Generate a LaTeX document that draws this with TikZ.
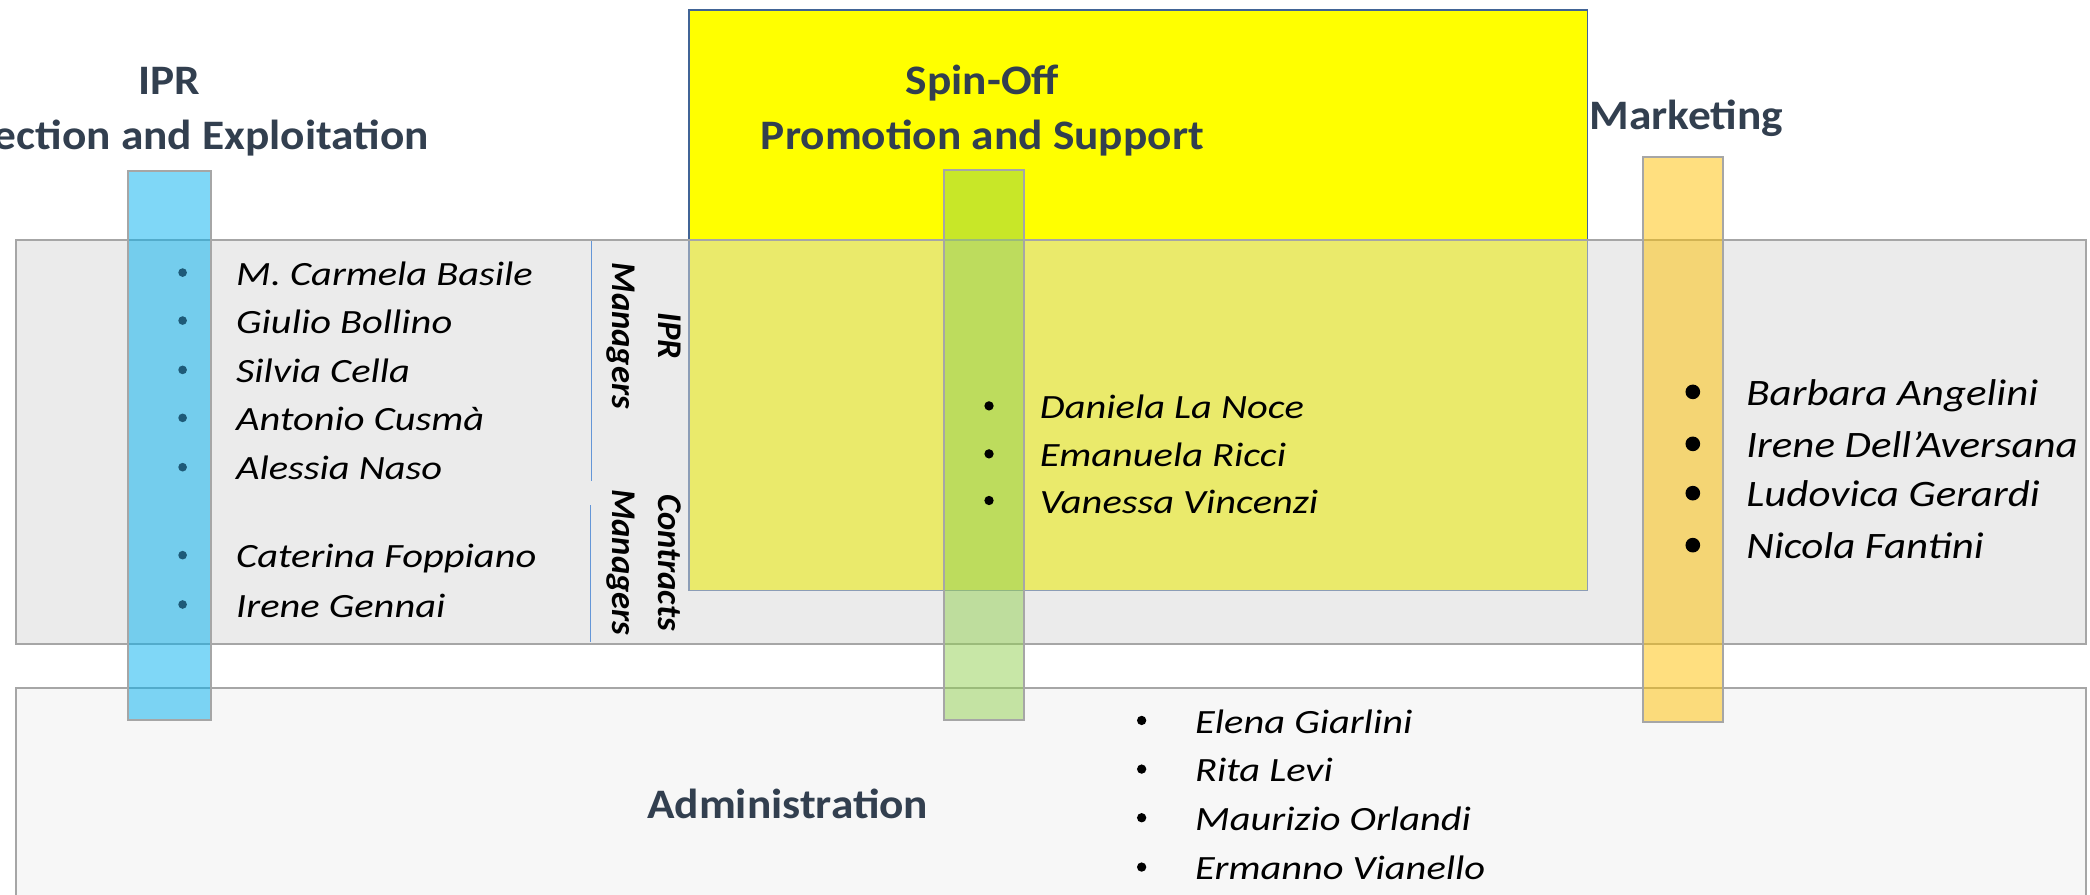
\documentclass[tikz,border=0pt]{standalone}
\usepackage{fontspec}
\setmainfont{Carlito}
\newfontfamily\titlefont[FakeStretch=1.08]{Carlito}
\newfontfamily\namefont[FakeStretch=1.19]{Carlito}
\newfontfamily\mktfont[FakeStretch=1.15]{Carlito}
\newfontfamily\labfont{Carlito}
\definecolor{titlecol}{RGB}{50,63,79}
\definecolor{bandfill}{RGB}{215,215,215}
\definecolor{bordergray}{RGB}{166,166,166}
\definecolor{adminfill}{RGB}{247,247,247}
\definecolor{yellowbox}{RGB}{255,255,0}
\definecolor{yellowborder}{RGB}{65,100,150}
\definecolor{barblue}{RGB}{0,176,240}
\definecolor{bargreen}{RGB}{146,208,80}
\definecolor{barorange}{RGB}{255,192,0}
\definecolor{sepline}{RGB}{100,150,215}
\definecolor{iprbullet}{RGB}{30,90,120}
\begin{document}
\begin{tikzpicture}[x=1pt,y=-1pt,
  title/.style={font=\titlefont\fontsize{31.5}{38}\selectfont\bfseries, text=titlecol, inner sep=0pt},
  namestyle/.style={font=\namefont\itshape\fontsize{25.5}{30}\selectfont, anchor=base west, inner sep=0pt},
  mktname/.style={namestyle, font=\mktfont\itshape\fontsize{28}{33}\selectfont},
  sidelabel/.style={font=\labfont\bfseries\itshape\fontsize{26}{34}\selectfont, rotate=-90, align=center, inner sep=0pt},
  bul/.style={circle, fill=black, inner sep=0pt, minimum size=7pt},
  bar/.style={fill opacity=0.5, draw=bordergray, line width=1.5pt},
  panel/.style={draw=bordergray, line width=1.5pt}
]
\useasboundingbox (0,0) rectangle (1568,671);
\clip (0,0) rectangle (1568,671);

% yellow spin-off box
\draw[fill=yellowbox, draw=yellowborder, line width=1.3pt] (517,7.5) rectangle (1191,443);
% grey band
\draw[panel, fill=bandfill, fill opacity=0.5] (12,180) rectangle (1565,483);
% administration box
\draw[panel, fill=adminfill] (12,516) rectangle (1565,700);

% coloured bars
\draw[bar, fill=barblue] (96,128) rectangle (158,540.5);
\draw[bar, fill=bargreen] (708,127.5) rectangle (768.5,540);
\draw[bar, fill=barorange] (1233,118) rectangle (1293,542);

% separators
\draw[sepline, line width=0.9pt] (443.5,181) -- (443.5,361);
\draw[sepline, line width=0.9pt] (443,379) -- (443,482);

% titles
\node[title, anchor=base] (ipr1) at (127,71) {IPR};
\node[title, anchor=base east] (ipr2) at (322,112.5) {Protection and Exploitation};
\node[title, anchor=base] (spin1) at (737,71) {Spin-Off};
\node[title, anchor=base] (spin2) at (737,112.5) {Promotion and Support};
\node[title, anchor=base] (mkt) at (1265,97) {Marketing};
\node[title, anchor=base] (adm) at (591,614) {Administration};

% side labels
\node[sidelabel] (iprman) at (483,252) {IPR\\Managers};
\node[sidelabel] (conman) at (483,422) {Contracts\\Managers};

% IPR list
\foreach \y/\t [count=\i] in {214/M. Carmela Basile, 250/Giulio Bollino, 287/Silvia Cella, 323/Antonio Cusmà, 360/Alessia Naso, 426/Caterina Foppiano, 463/Irene Gennai}{
  \node[bul, fill=iprbullet, minimum size=6.5pt] (iprb\i) at (137,\y-9.5) {};
  \node[namestyle] (iprn\i) at (177,\y) {\t};
}
% Spin-off list
\foreach \y/\t [count=\i] in {314/Daniela La Noce, 350/Emanuela Ricci, 385/Vanessa Vincenzi}{
  \node[bul] (spb\i) at (742,\y-9.5) {};
  \node[namestyle] (spn\i) at (780,\y) {\t};
}
% Marketing list
\foreach \y/\t [count=\i] in {304/Barbara Angelini, 343/Irene Dell’Aversana, 380/Ludovica Gerardi, 419/Nicola Fantini}{
  \node[bul, minimum size=11pt] (mkb\i) at (1270,\y-10) {};
  \node[mktname] (mkn\i) at (1310,\y) {\t};
}
% Administration list
\foreach \y/\t [count=\i] in {550/Elena Giarlini, 586.5/Rita Levi, 623/Maurizio Orlandi, 660/Ermanno Vianello}{
  \node[bul] (adb\i) at (856.5,\y-9.5) {};
  \node[namestyle] (adn\i) at (896.5,\y) {\t};
}
\end{tikzpicture}
\end{document}
